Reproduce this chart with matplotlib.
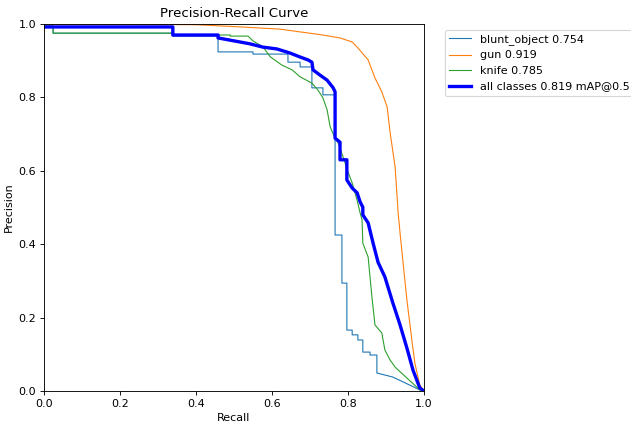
import matplotlib
matplotlib.use('Agg')
import matplotlib.pyplot as plt

# recall / precision points
blunt_r = [0, 0.024, 0.024, 0.339, 0.339, 0.458, 0.458, 0.55, 0.55, 0.642, 0.642, 0.674, 0.674, 0.705, 0.705, 0.734, 0.734, 0.766,
           0.766, 0.784, 0.784, 0.797, 0.797, 0.811, 0.811, 0.826, 0.826, 0.839, 0.839, 0.858, 0.858, 0.876, 0.876, 0.918, 0.989, 1.0]
blunt_p = [0.99, 0.99, 0.975, 0.975, 0.967, 0.967, 0.924, 0.924, 0.918, 0.918, 0.896, 0.896, 0.883, 0.883, 0.826, 0.826, 0.807, 0.807,
           0.425, 0.425, 0.294, 0.294, 0.166, 0.166, 0.153, 0.153, 0.139, 0.139, 0.106, 0.106, 0.098, 0.098, 0.049, 0.038, 0.003, 0.0]

gun_r = [0, 0.4, 0.5, 0.621, 0.734, 0.779, 0.811, 0.826, 0.853, 0.871, 0.889, 0.903, 0.911, 0.924, 0.932, 0.937, 0.955, 0.968,
         0.976, 0.989, 1.0]
gun_p = [1.0, 0.998, 0.993, 0.986, 0.97, 0.962, 0.951, 0.935, 0.902, 0.853, 0.815, 0.774, 0.703, 0.61, 0.485, 0.43, 0.248, 0.139,
         0.076, 0.016, 0.0]

knife_r = [0, 0.024, 0.024, 0.339, 0.339, 0.49, 0.49, 0.537, 0.55, 0.576, 0.595, 0.626, 0.653, 0.674, 0.705, 0.721, 0.734, 0.745,
           0.753, 0.766, 0.774, 0.787, 0.8, 0.811, 0.824, 0.832, 0.837, 0.839, 0.853, 0.863, 0.871, 0.889, 0.897, 0.911, 0.924,
           0.989, 1.0]
knife_p = [0.995, 0.995, 0.975, 0.975, 0.97, 0.97, 0.967, 0.967, 0.954, 0.938, 0.911, 0.888, 0.875, 0.856, 0.839, 0.82, 0.799, 0.766,
           0.72, 0.689, 0.676, 0.638, 0.597, 0.567, 0.52, 0.485, 0.466, 0.403, 0.365, 0.256, 0.18, 0.158, 0.112, 0.084, 0.065,
           0.003, 0.0]

all_r = [0, 0.339, 0.339, 0.458, 0.458, 0.542, 0.576, 0.613, 0.647, 0.674, 0.695, 0.705, 0.708, 0.726, 0.745, 0.761, 0.766, 0.766,
         0.779, 0.779, 0.797, 0.797, 0.811, 0.824, 0.832, 0.839, 0.839, 0.853, 0.866, 0.879, 0.897, 0.918, 0.937, 0.955, 0.971,
         0.989, 1.0]
all_p = [0.992, 0.992, 0.97, 0.97, 0.962, 0.946, 0.937, 0.932, 0.921, 0.91, 0.902, 0.896, 0.875, 0.861, 0.847, 0.826, 0.815, 0.689,
         0.678, 0.63, 0.63, 0.575, 0.553, 0.54, 0.515, 0.501, 0.48, 0.458, 0.403, 0.351, 0.311, 0.24, 0.18, 0.117, 0.057,
         0.008, 0.0]

names = ['blunt_object', 'gun', 'knife']
ap = [0.754, 0.919, 0.785]
map50 = 0.819

fig, ax = plt.subplots(1, 1, figsize=(631 / 80, 425 / 80), dpi=80)
for name, a, r, p in zip(names, ap, [blunt_r, gun_r, knife_r], [blunt_p, gun_p, knife_p]):
    ax.plot(r, p, linewidth=1, label=f'{name} {a:.3f}')
ax.plot(all_r, all_p, linewidth=3, color='blue', label=f'all classes {map50:.3f} mAP@0.5')

ax.set_xlabel('Recall')
ax.set_ylabel('Precision')
ax.set_xlim(0, 1)
ax.set_ylim(0, 1)
ax.legend(bbox_to_anchor=(1.04, 1), loc='upper left')
ax.set_title('Precision-Recall Curve')
# axes box placed to match the reference (44..424 x 24..391 px)
fig.subplots_adjust(left=44 / 631, right=424 / 631, top=1 - 24 / 425, bottom=1 - 391 / 425)
fig.savefig('out.png', dpi=80)
